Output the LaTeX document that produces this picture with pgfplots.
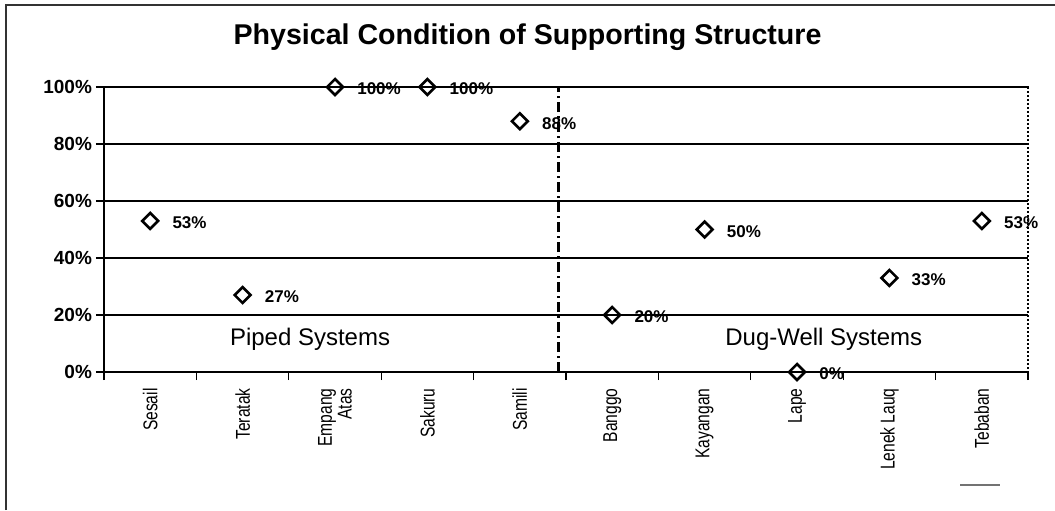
\documentclass[border=0pt]{standalone}
\usepackage{fontspec}
\setmainfont{Liberation Sans}
\newfontfamily\narrowfont[FakeStretch=0.78]{Liberation Sans}
\usepackage{pgfplots}
\pgfplotsset{compat=1.18}
\begin{document}
\begin{tikzpicture}[x=1pt,y=1pt]
% picture frame: 1055x510 px at 0.5pt per px, axis origin at px (104,372)
\useasboundingbox (-52pt,-69pt) rectangle (475.5pt,186pt);
\draw[line width=0.6pt, black!80] (-49pt,-69pt) -- (-49pt,183.5pt) -- (475.5pt,183.5pt);
\begin{axis}[
  at={(0,0)}, anchor=south west,
  scale only axis,
  width=462pt, height=142.5pt,
  xmin=-0.5, xmax=9.5,
  ymin=0, ymax=100,
  axis line style={draw=none},
  clip=false,
  xtick={-0.5,0.5,...,9.5},
  x tick label as interval,
  xtick pos=bottom, ytick pos=left,
  xticklabels={Sesail,Teratak,{Empang\\Atas},Sakuru,Samili,Banggo,Kayangan,Lape,Lenek Lauq,Tebaban},
  x tick label style={rotate=90, anchor=east, align=right,
    font=\narrowfont\fontsize{10}{8.5}\selectfont, inner sep=0pt, xshift=-4pt},
  ytick={0,20,...,100},
  yticklabel={\pgfmathprintnumber{\tick}\%},
  y tick label style={font=\fontsize{9.5}{10}\selectfont\bfseries, xshift=1.5pt},
  /pgf/number format/assume math mode=true,
  tick align=outside,
  major tick length=4pt,
  tick style={black, line width=0.6pt},
  ymajorgrids=true,
  grid style={black, line width=0.6pt},
]
\draw[black, line width=1.2pt, dash pattern=on 5pt off 2pt on 1pt off 2pt]
  (axis cs:4.42,0) -- (axis cs:4.42,100);
\draw[black, line width=1pt, densely dotted] (rel axis cs:0,1) -- (rel axis cs:1,1) -- (rel axis cs:1,0);
\draw[black, line width=1.3pt] (rel axis cs:0,1) -- (rel axis cs:0,0) -- (rel axis cs:1,0);
\addplot[
  only marks,
  mark=square,
  mark size=2.8pt,
  mark options={rotate=45, fill=white, draw=black, line width=1.3pt},
  point meta=y,
  nodes near coords={\pgfmathprintnumber{\pgfplotspointmeta}\%},
  every node near coord/.style={anchor=west, inner sep=0pt, xshift=10.5pt, yshift=-1pt,
    font=\fontsize{8.5}{9}\selectfont\bfseries, text=black},
] coordinates {
  (0,53) (1,27) (2,100) (3,100) (4,88)
  (5,20) (6,50) (7,0) (8,33) (9,53)
};
\node[font=\fontsize{12}{13}\selectfont] at (axis cs:1.73,11.6) {Piped Systems};
\node[font=\fontsize{12}{13}\selectfont] at (axis cs:7.29,11.6) {Dug-Well Systems};
\end{axis}
\node[font=\fontsize{14.3}{15}\selectfont\bfseries] at (211.75pt,167.5pt) {Physical Condition of Supporting Structure};
\draw[black!55, line width=0.8pt] (428pt,-56.5pt) -- (448pt,-56.5pt);
\end{tikzpicture}
\end{document}
